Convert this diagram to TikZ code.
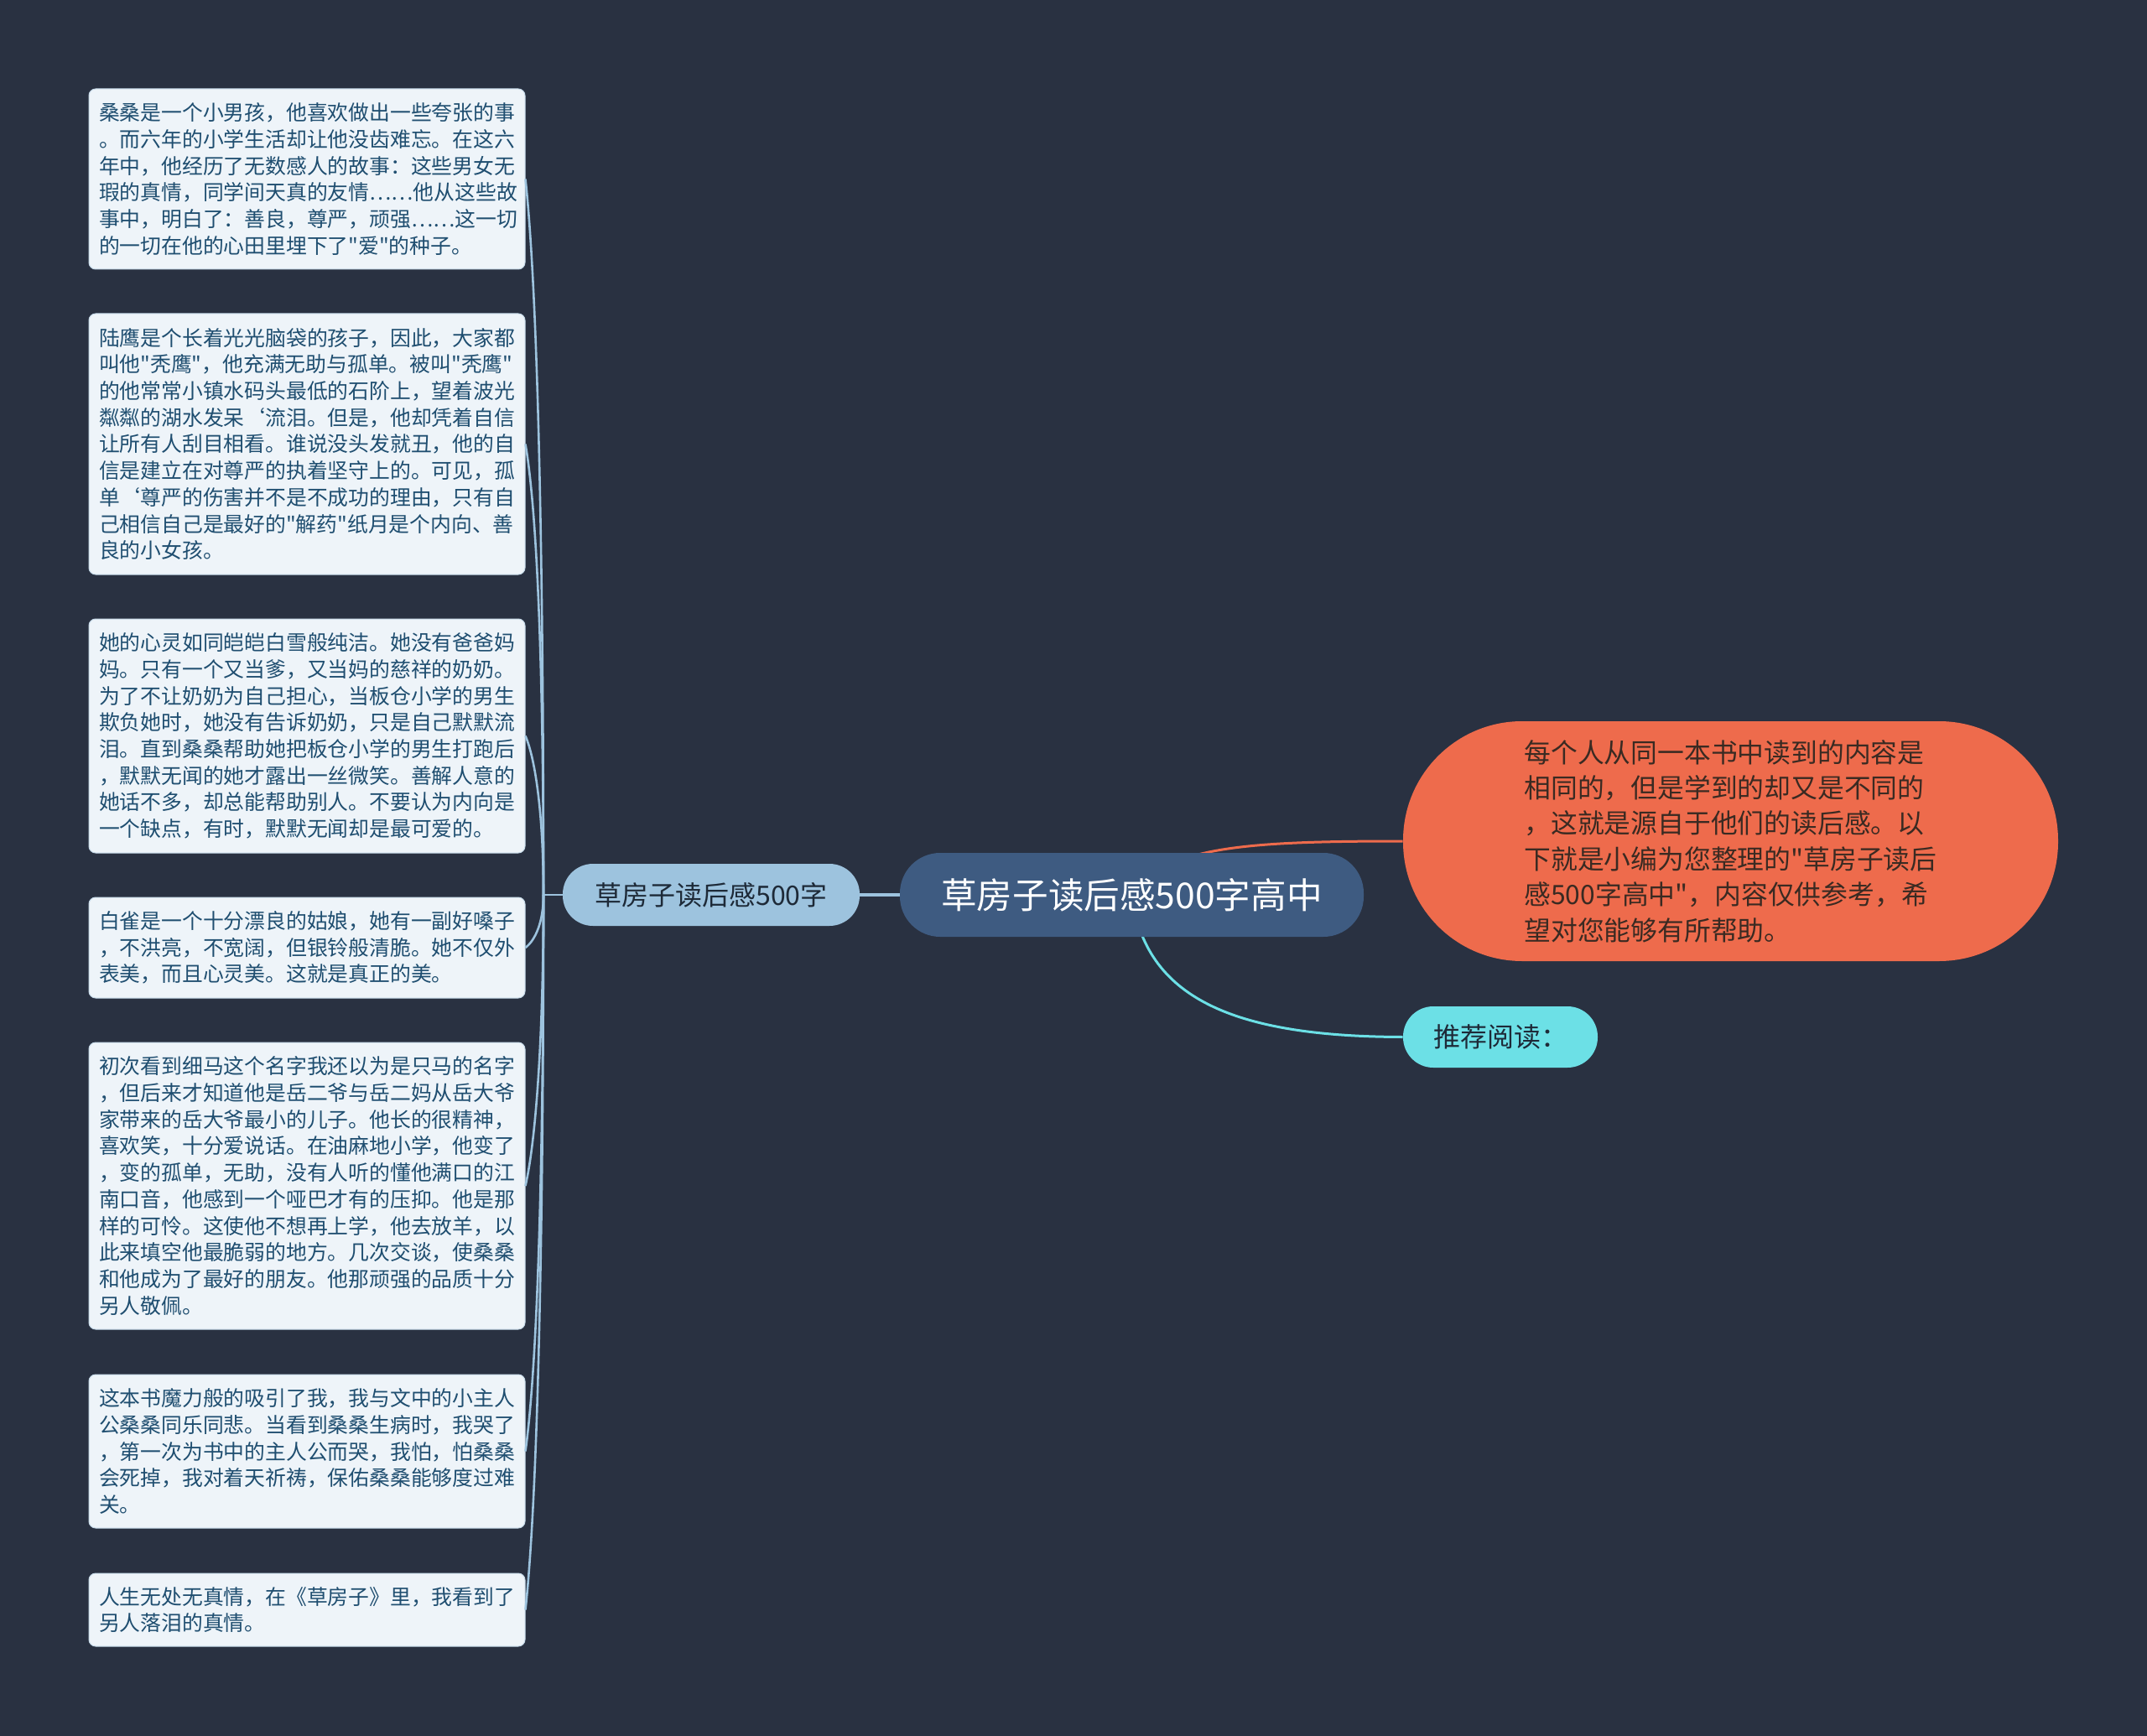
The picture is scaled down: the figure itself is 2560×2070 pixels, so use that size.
\documentclass[tikz,border=0pt]{standalone}
\usepackage{fontspec}
\newfontfamily\cjk{Noto Sans CJK SC}
\definecolor{bg}{HTML}{293141}
\definecolor{leaffill}{HTML}{EEF4F9}
\definecolor{leafedge}{HTML}{C5D9E8}
\definecolor{leaftext}{HTML}{1F4E70}
\definecolor{lblue}{HTML}{9DC3DE}
\definecolor{central}{HTML}{3E5B81}
\definecolor{orangec}{HTML}{EE6B4C}
\definecolor{cyanc}{HTML}{6CE0E6}
\definecolor{darktext}{HTML}{1E2A38}
\definecolor{orangetext}{HTML}{3A2A22}
\begin{document}
\begin{tikzpicture}[x=0.5pt,y=-0.5pt,
  leaf/.style={draw=leafedge, line width=0.5pt, fill=leaffill, rounded corners=4pt,
    minimum width=260pt, text width=248pt, align=left, inner xsep=6pt, inner ysep=3pt,
    font=\cjk\fontsize{12.4pt}{15.85pt}\selectfont, text=leaftext},
  lconn/.style={draw=lblue, line width=1.3pt},
  centralnode/.style={fill=central, rounded corners=24pt, minimum width=276.5pt, minimum height=50pt,
    text=white, font=\cjk\fontsize{21.3pt}{26pt}\selectfont, inner sep=0pt},
  branchnode/.style={fill=lblue, rounded corners=18pt, minimum width=177pt, minimum height=37pt,
    text=darktext, font=\cjk\fontsize{16pt}{20pt}\selectfont, inner sep=0pt},
  orangenode/.style={fill=orangec, rounded corners=71pt, minimum width=390.5pt, minimum height=143pt,
    text=orangetext, font=\cjk\fontsize{15.9pt}{21.2pt}\selectfont, align=left, inner sep=0pt},
  cyannode/.style={fill=cyanc, rounded corners=18pt, minimum width=116pt, minimum height=36.5pt,
    text=darktext, font=\cjk\fontsize{16pt}{20pt}\selectfont, inner sep=0pt}
]
\fill[bg] (0,0) rectangle (2560,2070);
\useasboundingbox (0,0) rectangle (2560,2070);

% main nodes
\node[orangenode] (o) at (2063.5,1003) {每个人从同一本书中读到的内容是\\相同的，但是学到的却又是不同的\\，这就是源自于他们的读后感。以\\下就是小编为您整理的"草房子读后\\感500字高中"，内容仅供参考，希\\望对您能够有所帮助。};
\node[cyannode] (r) at (1789,1236.5) {推荐阅读：};
\coordinate (cc) at (1349.5,1067);
\draw[orangec, line width=1.5pt] (cc) .. controls (1390,1010) and (1480,1003) .. (o.west);
\draw[cyanc, line width=1.5pt] (cc) .. controls (1365,1190) and (1470,1236) .. (r.west);
\node[centralnode] (c) at (cc) {草房子读后感500字高中};
\node[branchnode] (b) at (848,1067) {草房子读后感500字};
\coordinate (j) at (648,1067);
\draw[draw=lblue, line width=2pt] (c.west) -- (b.east);
\draw[lconn] (b.west) -- (j);

% leaves
\node[leaf, minimum height=107.5pt] (l1) at (366,213.5) {桑桑是一个小男孩，他喜欢做出一些夸张的事\\。而六年的小学生活却让他没齿难忘。在这六\\年中，他经历了无数感人的故事：这些男女无\\瑕的真情，同学间天真的友情……他从这些故\\事中，明白了：善良，尊严，顽强……这一切\\的一切在他的心田里埋下了"爱"的种子。};
\node[leaf, minimum height=155.5pt] (l2) at (366,529.5) {陆鹰是个长着光光脑袋的孩子，因此，大家都\\叫他"秃鹰"，他充满无助与孤单。被叫"秃鹰"\\的他常常小镇水码头最低的石阶上，望着波光\\粼粼的湖水发呆‘流泪。但是，他却凭着自信\\让所有人刮目相看。谁说没头发就丑，他的自\\信是建立在对尊严的执着坚守上的。可见，孤\\单‘尊严的伤害并不是不成功的理由，只有自\\己相信自己是最好的"解药"纸月是个内向、善\\良的小女孩。};
\node[leaf, minimum height=139.5pt] (l3) at (366,877.5) {她的心灵如同皑皑白雪般纯洁。她没有爸爸妈\\妈。只有一个又当爹，又当妈的慈祥的奶奶。\\为了不让奶奶为自己担心，当板仓小学的男生\\欺负她时，她没有告诉奶奶，只是自己默默流\\泪。直到桑桑帮助她把板仓小学的男生打跑后\\，默默无闻的她才露出一丝微笑。善解人意的\\她话不多，却总能帮助别人。不要认为内向是\\一个缺点，有时，默默无闻却是最可爱的。};
\node[leaf, minimum height=60pt] (l4) at (366,1130) {白雀是一个十分漂良的姑娘，她有一副好嗓子\\，不洪亮，不宽阔，但银铃般清脆。她不仅外\\表美，而且心灵美。这就是真正的美。};
\node[leaf, minimum height=171pt] (l5) at (366,1414) {初次看到细马这个名字我还以为是只马的名字\\，但后来才知道他是岳二爷与岳二妈从岳大爷\\家带来的岳大爷最小的儿子。他长的很精神，\\喜欢笑，十分爱说话。在油麻地小学，他变了\\，变的孤单，无助，没有人听的懂他满口的江\\南口音，他感到一个哑巴才有的压抑。他是那\\样的可怜。这使他不想再上学，他去放羊，以\\此来填空他最脆弱的地方。几次交谈，使桑桑\\和他成为了最好的朋友。他那顽强的品质十分\\另人敬佩。};
\node[leaf, minimum height=91.5pt] (l6) at (366,1730.5) {这本书魔力般的吸引了我，我与文中的小主人\\公桑桑同乐同悲。当看到桑桑生病时，我哭了\\，第一次为书中的主人公而哭，我怕，怕桑桑\\会死掉，我对着天祈祷，保佑桑桑能够度过难\\关。};
\node[leaf, minimum height=43.5pt] (l7) at (366,1919.5) {人生无处无真情，在《草房子》里，我看到了\\另人落泪的真情。};

% leaf connectors
\draw[lconn] (j) .. controls +(0,-427) and +(14,128) .. (l1.east);
\draw[lconn] (j) .. controls +(0,-269) and +(14,81) .. (l2.east);
\draw[lconn] (j) .. controls +(0,-95) and +(12,28) .. (l3.east);
\draw[lconn] (j) .. controls +(0,32) and +(12,-9) .. (l4.east);
\draw[lconn] (j) .. controls +(0,174) and +(12,-52) .. (l5.east);
\draw[lconn] (j) .. controls +(0,332) and +(14,-100) .. (l6.east);
\draw[lconn] (j) .. controls +(0,426) and +(14,-128) .. (l7.east);
\end{tikzpicture}
\end{document}
